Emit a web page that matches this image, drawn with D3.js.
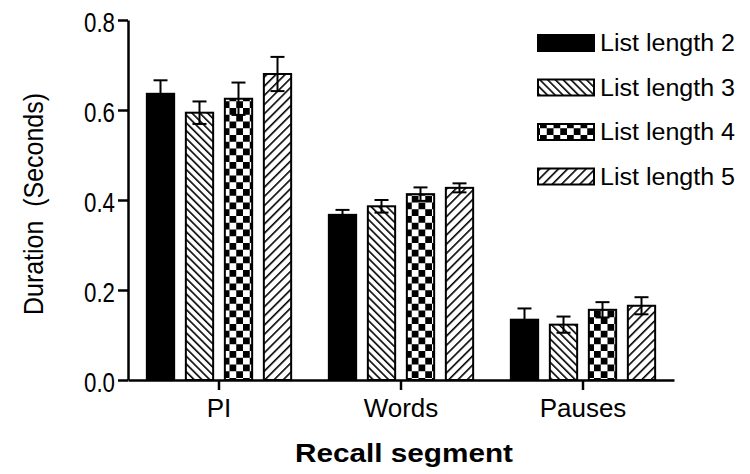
<!DOCTYPE html>
<html>
<head>
<meta charset="utf-8">
<script src="https://cdn.jsdelivr.net/npm/d3@7"></script>
<style>
  html, body { margin: 0; padding: 0; background: #fff; }
  svg { display: block; font-family: "Liberation Sans", Arial, sans-serif; }
</style>
</head>
<body>
<svg id="chart" width="750" height="474"></svg>
<script>
// ---- data ----
const categories = ["PI", "Words", "Pauses"];
const seriesNames = ["List length 2", "List length 3", "List length 4", "List length 5"];
const len2 = [0.636, 0.367, 0.134];
const len3 = [0.594, 0.386, 0.123];
const len4 = [0.625, 0.413, 0.156];
const len5 = [0.680, 0.427, 0.165];
const err2 = [0.030, 0.011, 0.025];
const err3 = [0.025, 0.014, 0.018];
const err4 = [0.036, 0.015, 0.017];
const err5 = [0.038, 0.010, 0.019];
const yTicks = [0.0, 0.2, 0.4, 0.6, 0.8];

const seriesValues = [len2, len3, len4, len5];
const seriesErrors = [err2, err3, err4, err5];
const fills = ["#000", "url(#hatchBack)", "url(#checker)", "url(#hatchFwd)"];

const svg = d3.select("#chart");
const defs = svg.append("defs");

// back-slash hatch "\\"
const pb = defs.append("pattern").attr("id", "hatchBack").attr("patternUnits", "userSpaceOnUse")
  .attr("width", 5.5).attr("height", 5.5).attr("patternTransform", "rotate(-45)");
pb.append("rect").attr("width", 5.5).attr("height", 5.5).attr("fill", "#fff");
pb.append("line").attr("x1", 0).attr("y1", 0).attr("x2", 0).attr("y2", 5.5).attr("stroke", "#000").attr("stroke-width", 3.2);

// forward-slash hatch "/"
const pf = defs.append("pattern").attr("id", "hatchFwd").attr("patternUnits", "userSpaceOnUse")
  .attr("width", 6.5).attr("height", 6.5).attr("patternTransform", "rotate(45)");
pf.append("rect").attr("width", 6.5).attr("height", 6.5).attr("fill", "#fff");
pf.append("line").attr("x1", 0).attr("y1", 0).attr("x2", 0).attr("y2", 6.5).attr("stroke", "#000").attr("stroke-width", 3.2);

// checker
const cs = 6.75;
const pc = defs.append("pattern").attr("id", "checker").attr("patternUnits", "userSpaceOnUse")
  .attr("width", cs * 2).attr("height", cs * 2);
pc.append("rect").attr("width", cs * 2).attr("height", cs * 2).attr("fill", "#fff");
pc.append("rect").attr("x", 0).attr("y", 0).attr("width", cs).attr("height", cs).attr("fill", "#000");
pc.append("rect").attr("x", cs).attr("y", cs).attr("width", cs).attr("height", cs).attr("fill", "#000");

// ---- scales ----
const x0 = d3.scaleBand().domain(categories).range([128, 674]).paddingInner(0).paddingOuter(0);
const groupW = 156;
const x1 = d3.scaleBand().domain(d3.range(seriesNames.length)).range([0, groupW]).paddingInner(0.3).paddingOuter(0.15);
const y = d3.scaleLinear().domain([0, 0.8]).range([380, 20]);

// ---- bars ----
seriesNames.forEach((name, si) => {
  const g = svg.append("g");
  g.selectAll("rect").data(categories).join("rect")
    .attr("x", (c) => x0(c) + x0.bandwidth() / 2 - groupW / 2 + x1(si))
    .attr("y", (c, i) => y(seriesValues[si][i]))
    .attr("width", x1.bandwidth())
    .attr("height", (c, i) => y(0) - y(seriesValues[si][i]))
    .attr("fill", fills[si])
    .attr("stroke", "#000")
    .attr("stroke-width", 2);
});

// ---- error bars ----
seriesNames.forEach((name, si) => {
  const g = svg.append("g").attr("stroke", "#000").attr("stroke-width", 2);
  categories.forEach((c, i) => {
    const cx = x0(c) + x0.bandwidth() / 2 - groupW / 2 + x1(si) + x1.bandwidth() / 2;
    const v = seriesValues[si][i], e = seriesErrors[si][i];
    g.append("line").attr("x1", cx).attr("x2", cx).attr("y1", y(v - e)).attr("y2", y(v + e));
    g.append("line").attr("x1", cx - 7).attr("x2", cx + 7).attr("y1", y(v + e)).attr("y2", y(v + e));
    g.append("line").attr("x1", cx - 7).attr("x2", cx + 7).attr("y1", y(v - e)).attr("y2", y(v - e));
  });
});

// ---- axes ----
const yAxis = svg.append("g").attr("transform", "translate(128,0)")
  .call(d3.axisLeft(y).tickValues(yTicks).tickFormat(d3.format(".1f")).tickSize(10).tickSizeOuter(0).tickPadding(3));
yAxis.select(".domain").attr("stroke-width", 2.5);
yAxis.selectAll(".tick line").attr("stroke-width", 2.5);
yAxis.selectAll(".tick text")
  .attr("font-size", 27).attr("fill", "#000").attr("dy", "0.42em")
  .attr("textLength", 31).attr("lengthAdjust", "spacingAndGlyphs")
  .style("font-family", "'Liberation Sans', Arial, sans-serif");

const xAxis = svg.append("g").attr("transform", "translate(0,380)")
  .call(d3.axisBottom(x0).tickSize(10).tickSizeOuter(0).tickPadding(9));
xAxis.select(".domain").attr("stroke-width", 2.5);
xAxis.selectAll(".tick line").attr("stroke-width", 2.5);
xAxis.selectAll(".tick text")
  .attr("font-size", 26).attr("fill", "#000")
  .style("font-family", "'Liberation Sans', Arial, sans-serif");

// ---- axis titles ----
svg.append("text")
  .attr("transform", "translate(43,204) rotate(-90)")
  .attr("text-anchor", "middle")
  .attr("font-size", 28)
  .attr("textLength", 222).attr("lengthAdjust", "spacingAndGlyphs")
  .style("white-space", "pre")
  .text("Duration  (Seconds)");

svg.append("text")
  .attr("x", 404).attr("y", 462)
  .attr("text-anchor", "middle")
  .attr("font-size", 25).attr("font-weight", "bold")
  .attr("textLength", 218).attr("lengthAdjust", "spacingAndGlyphs")
  .text("Recall segment");

// ---- legend ----
const legend = svg.append("g");
seriesNames.forEach((name, si) => {
  const by = 51 + si * 44.5;
  legend.append("rect").attr("x", 538).attr("y", by - 16).attr("width", 56).attr("height", 16)
    .attr("fill", fills[si]).attr("stroke", "#000").attr("stroke-width", 2);
  legend.append("text").attr("x", 600).attr("y", by)
    .attr("font-size", 23)
    .attr("textLength", 135).attr("lengthAdjust", "spacingAndGlyphs")
    .text(name);
});
</script>
</body>
</html>
